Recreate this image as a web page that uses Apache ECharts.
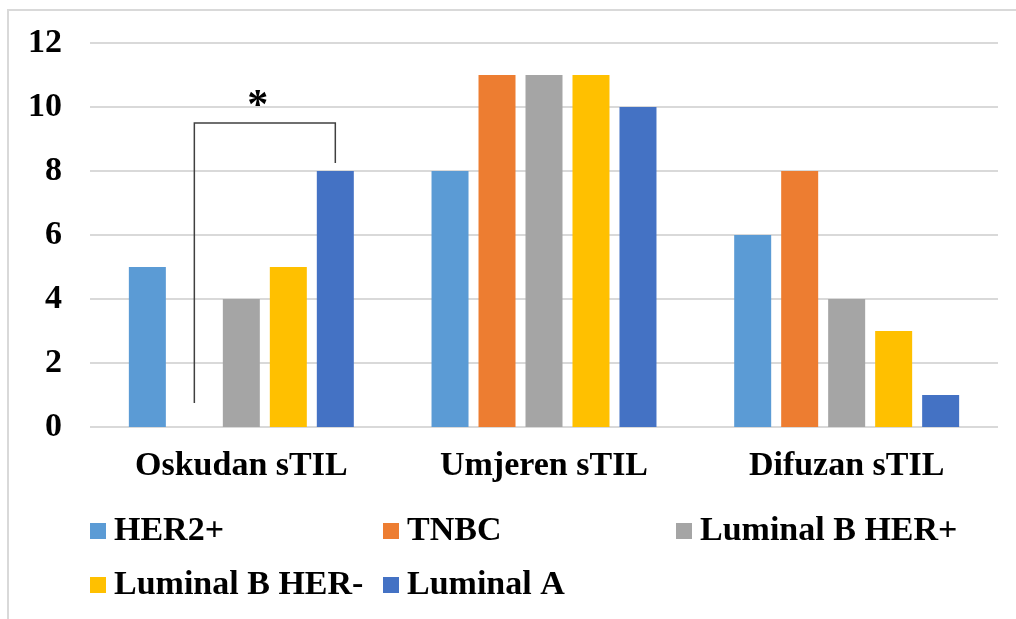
<!DOCTYPE html>
<html>
<head>
<meta charset="utf-8">
<script src="https://cdn.jsdelivr.net/npm/echarts@6/dist/echarts.min.js"></script>
<style>html,body{margin:0;padding:0;background:#fff;}#c{width:1016px;height:619px;}</style>
</head>
<body>
<div id="c"></div>
<script>
var categories = ['Oskudan sTIL', 'Umjeren sTIL', 'Difuzan sTIL'];
var seriesNames = ['HER2+', 'TNBC', 'Luminal B HER+', 'Luminal B HER-', 'Luminal A'];
var her2 = [5, 8, 6];
var tnbc = [0, 11, 8];
var lumBHerPos = [4, 11, 4];
var lumBHerNeg = [5, 11, 3];
var lumA = [8, 10, 1];
var yTicks = [0, 2, 4, 6, 8, 10, 12];
// significance bracket annotation (values in axis units)
var bracketTop = 9.5;
var bracketLeftEnd = 0.75;
var bracketRightEnd = 8.25;
var starLabel = '*';
var starValue = 10.0;

var colors = ['#5b9bd5', '#ed7d31', '#a5a5a5', '#ffc000', '#4472c4'];
var values = [her2, tnbc, lumBHerPos, lumBHerNeg, lumA];
var FONT = '"Liberation Serif", "Times New Roman", serif';
var FS = 34;

var chart = echarts.init(document.getElementById('c'), null, {renderer: 'canvas'});

var legendPos = [
  {left: 90, top: 514},
  {left: 383, top: 514},
  {left: 676, top: 514},
  {left: 90, top: 568},
  {left: 383, top: 568}
];
var legends = seriesNames.map(function (n, i) {
  return {
    data: [n],
    left: legendPos[i].left,
    top: legendPos[i].top,
    icon: 'rect',
    itemWidth: 16,
    itemHeight: 16,
    padding: 0,
    selectedMode: false,
    textStyle: {fontFamily: FONT, fontWeight: 'bold', fontSize: FS, color: '#000', padding: [0, 0, 0, 3]}
  };
});

var series = seriesNames.map(function (n, i) {
  return {
    name: n,
    type: 'bar',
    data: values[i],
    barWidth: 37,
    barGap: '27%',
    itemStyle: {color: colors[i]},
    z: 2
  };
});

chart.setOption({
  animation: false,
  color: colors,
  legend: legends,
  grid: {left: 90, right: 18, top: 43, bottom: 192, containLabel: false},
  xAxis: {
    type: 'category',
    data: categories,
    axisLine: {show: false},
    axisTick: {show: false},
    axisLabel: {fontFamily: FONT, fontWeight: 'bold', fontSize: FS, color: '#000', margin: 22}
  },
  yAxis: {
    type: 'value',
    min: yTicks[0],
    max: yTicks[yTicks.length - 1],
    interval: 2,
    axisLine: {show: false},
    axisTick: {show: false},
    splitLine: {lineStyle: {color: '#d9d9d9', width: 2}},
    axisLabel: {fontFamily: FONT, fontWeight: 'bold', fontSize: FS, color: '#000', margin: 28}
  },
  series: series
});

function barCenter(seriesIndex, dataIndex) {
  var l = chart.getModel().getSeriesByIndex(seriesIndex).getData().getItemLayout(dataIndex);
  return l.x + l.width / 2;
}
var xL = barCenter(1, 0);
var xR = barCenter(4, 0);
var yTop = chart.convertToPixel({yAxisIndex: 0}, bracketTop);
var yLeftEnd = chart.convertToPixel({yAxisIndex: 0}, bracketLeftEnd);
var yRightEnd = chart.convertToPixel({yAxisIndex: 0}, bracketRightEnd);
var yStar = chart.convertToPixel({yAxisIndex: 0}, starValue);

chart.setOption({
  graphic: [
    {
      type: 'rect',
      shape: {x: 8, y: 10, width: 1030, height: 640},
      style: {fill: 'none', stroke: '#d9d9d9', lineWidth: 2},
      silent: true
    },
    {
      type: 'polyline',
      shape: {points: [[xL, yLeftEnd], [xL, yTop], [xR, yTop], [xR, yRightEnd]]},
      style: {fill: 'none', stroke: '#404040', lineWidth: 1.5},
      z: 10
    },
    {
      type: 'text',
      x: xL + (xR - xL) * 0.45,
      y: yStar,
      style: {text: starLabel, fontFamily: FONT, fontWeight: 'bold', fontSize: 42, fill: '#000', align: 'center', verticalAlign: 'middle'},
      z: 10
    }
  ]
});
</script>
</body>
</html>
